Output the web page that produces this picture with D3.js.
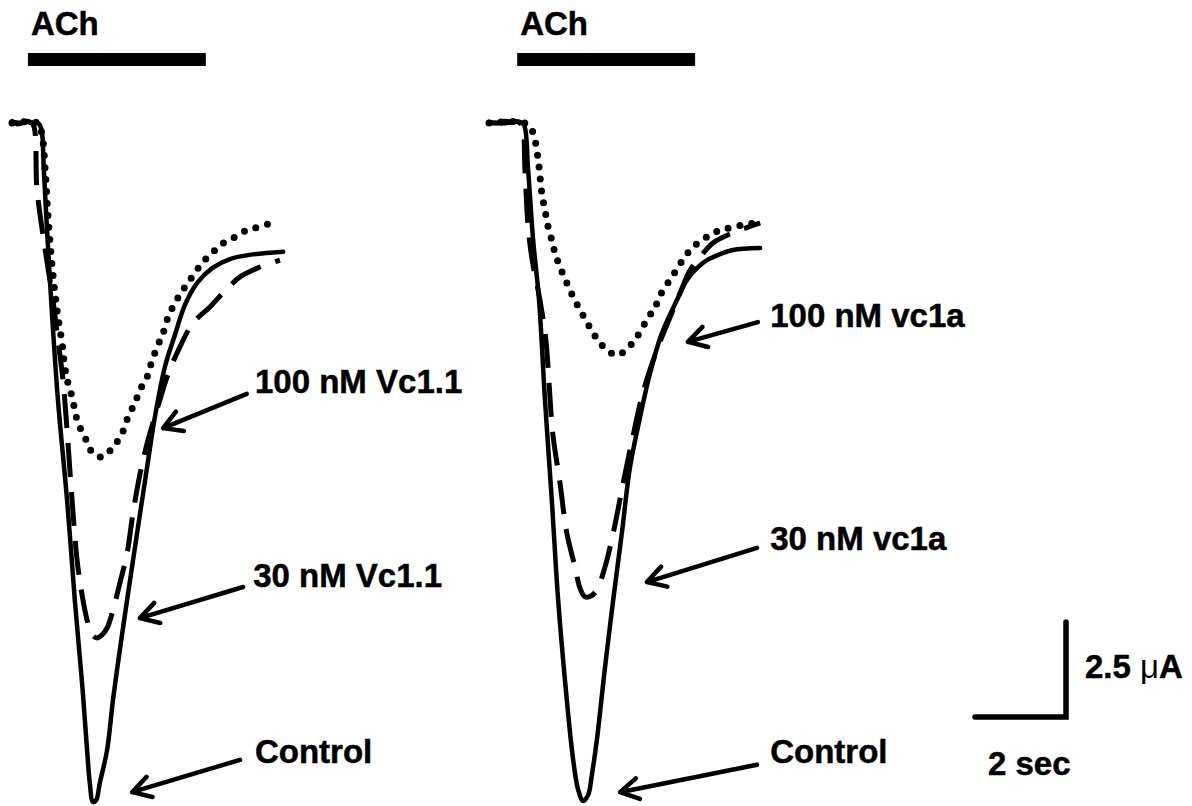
<!DOCTYPE html>
<html>
<head>
<meta charset="utf-8">
<script src="https://cdn.jsdelivr.net/npm/d3@7"></script>
<style>
  body { margin: 0; background: #fff; }
  text { font-family: "Liberation Sans", Arial, sans-serif; font-weight: bold; fill: #000; stroke: #000; stroke-width: 0.5; }
</style>
</head>
<body>
<svg id="chart"></svg>
<script>
// traces: [time (s), current (uA)]
const controlLeft = [[0,0.05],[0.11,-0.03],[0.22,0],[0.33,0.05],[0.46,0],[0.57,0],[0.64,-0.13],[0.70,-1.24],[0.77,-2.82],[0.86,-4.66],[1.01,-7.29],[1.21,-9.92],[1.38,-12.55],[1.54,-14.74],[1.65,-16.50],[1.71,-17.37],[1.78,-17.87],[1.85,-17.82],[1.93,-17.37],[2.09,-16.50],[2.22,-15.18],[2.37,-13.87],[2.53,-12.55],[2.75,-10.79],[2.97,-9.05],[3.14,-7.74],[3.36,-6.42],[3.58,-5.58],[3.80,-4.79],[4.07,-4.21],[4.40,-3.82],[4.79,-3.58],[5.23,-3.47],[5.96,-3.39]];
const vc11_30 = [[0,0.03],[0.18,0],[0.35,0.03],[0.46,-0.03],[0.55,-1.76],[0.73,-3.34],[0.90,-4.66],[1.01,-5.71],[1.12,-6.76],[1.21,-8.08],[1.32,-9.92],[1.43,-11.50],[1.54,-12.42],[1.65,-13.08],[1.76,-13.47],[1.87,-13.55],[1.98,-13.47],[2.09,-13.29],[2.22,-12.82],[2.37,-12.11],[2.53,-11.32],[2.66,-10.26],[2.81,-9.26],[2.99,-8.34],[3.25,-7.29],[3.41,-6.68],[3.69,-5.89],[3.98,-5.26],[4.35,-4.84],[4.64,-4.47],[5.01,-4.05],[5.45,-3.79],[5.89,-3.61]];
const vc11_100 = [[0,0],[0.57,0],[0.66,-0.32],[0.73,-1.24],[0.79,-2.42],[0.88,-3.74],[0.95,-4.53],[1.01,-5.11],[1.10,-5.79],[1.16,-6.42],[1.23,-6.84],[1.32,-7.21],[1.38,-7.55],[1.45,-7.89],[1.60,-8.26],[1.76,-8.66],[1.98,-8.79],[2.22,-8.53],[2.42,-8.16],[2.55,-7.74],[2.70,-7.37],[2.81,-7.03],[2.97,-6.68],[3.08,-6.24],[3.21,-5.84],[3.32,-5.53],[3.43,-5.11],[3.58,-4.74],[3.76,-4.39],[3.96,-4.05],[4.18,-3.68],[4.40,-3.42],[4.64,-3.16],[4.90,-3.00],[5.16,-2.82],[5.41,-2.74],[5.71,-2.63]];

const controlRight = [[0,0.03],[0.18,0],[0.35,0.05],[0.55,0.03],[0.68,0.03],[0.77,-0.05],[0.86,-1.24],[0.97,-3.08],[1.10,-4.66],[1.23,-7.29],[1.38,-9.92],[1.52,-12.55],[1.71,-15.18],[1.85,-16.76],[1.96,-17.55],[2.07,-17.84],[2.18,-17.68],[2.26,-17.16],[2.37,-16.24],[2.55,-14.32],[2.73,-12.55],[2.92,-10.79],[3.10,-9.05],[3.32,-7.74],[3.54,-6.58],[3.80,-5.53],[4.13,-4.66],[4.35,-4.13],[4.57,-3.82],[4.79,-3.61],[5.08,-3.45],[5.36,-3.34],[5.96,-3.29]];
const vc1a_30 = [[0,0],[0.35,0],[0.64,0.03],[0.73,-0.08],[0.79,-1.24],[0.86,-2.74],[0.95,-3.61],[1.12,-4.66],[1.25,-5.71],[1.32,-6.84],[1.40,-8.16],[1.56,-9.47],[1.71,-10.79],[1.89,-11.68],[2.00,-12.24],[2.11,-12.47],[2.24,-12.45],[2.37,-12.29],[2.55,-11.68],[2.73,-10.79],[2.95,-9.47],[3.16,-8.26],[3.38,-7.11],[3.69,-5.97],[3.98,-5.11],[4.20,-4.47],[4.42,-3.87],[4.64,-3.53],[4.92,-3.16],[5.36,-2.89],[5.96,-2.63]];
const vc1a_100 = [[0,0],[0.68,0.03],[0.86,-0.05],[0.97,-0.26],[1.05,-0.71],[1.10,-1.16],[1.16,-1.84],[1.23,-2.29],[1.30,-2.74],[1.38,-3.08],[1.45,-3.42],[1.56,-3.79],[1.71,-4.21],[1.85,-4.58],[2.00,-4.92],[2.15,-5.24],[2.29,-5.53],[2.44,-5.79],[2.62,-6.00],[2.81,-6.11],[3.03,-5.95],[3.25,-5.63],[3.47,-5.18],[3.65,-4.84],[3.80,-4.45],[4.02,-4.05],[4.20,-3.71],[4.37,-3.42],[4.59,-3.16],[4.86,-2.95],[5.08,-2.82],[5.36,-2.74],[5.67,-2.66],[5.96,-2.63]];

// ACh application (s): [on, off]
const achLeft = [0.35, 4.26];
const achRight = [0.62, 4.53];

const labelsLeft = ['100 nM Vc1.1', '30 nM Vc1.1', 'Control'];
const labelsRight = ['100 nM vc1a', '30 nM vc1a', 'Control'];

const scaleBarTime = 2;     // s
const scaleBarCurrent = 2.5; // uA
const scaleBarLabels = ['2 sec', '2.5 \u03bcA'];

const width = 1192, height = 806;
const pxPerSec = 45.5, pxPerUA = 38;
const baseY = 123;
const fontSize = 33;

const svg = d3.select('#chart')
  .attr('width', width)
  .attr('height', height);

svg.append('rect').attr('width', width).attr('height', height).attr('fill', '#fff');

const y = d3.scaleLinear()
  .domain([0, -1])
  .range([baseY, baseY + pxPerUA]);

const xLeft = d3.scaleLinear().domain([0, 1]).range([12, 12 + pxPerSec]);
const xRight = d3.scaleLinear().domain([0, 1]).range([489, 489 + pxPerSec]);

const styles = {
  solid: { w: 4.5, dash: null, cap: 'round' },
  dashed: { w: 5, dash: '34,15', cap: 'butt' },
  dotted: { w: 7, dash: '0,12', cap: 'round' }
};

// arrows: tail/tip in [s, uA], text anchor in [s, uA]
const arrowsLeft = [
  { tail: [5.16, -7.13], tip: [3.32, -8.03], text: [5.34, -7.11] },
  { tail: [5.08, -12.21], tip: [2.81, -13.03], text: [5.30, -12.21] },
  { tail: [5.01, -16.76], tip: [2.64, -17.61], text: [5.34, -16.84] }
];
const arrowsRight = [
  { tail: [5.91, -5.24], tip: [4.37, -5.76], text: [6.18, -5.37] },
  { tail: [5.89, -11.18], tip: [3.47, -12.08], text: [6.18, -11.24] },
  { tail: [5.89, -16.89], tip: [2.88, -17.61], text: [6.18, -16.84] }
];

function drawPanel(x, traces, ach, labels, arrows) {
  const g = svg.append('g');

  const line = d3.line()
    .x(d => x(d[0]))
    .y(d => y(d[1]))
    .curve(d3.curveCatmullRom.alpha(0.5));

  traces.forEach(tr => {
    const s = styles[tr.style];
    g.append('path')
      .datum(tr.data)
      .attr('d', line)
      .attr('fill', 'none')
      .attr('stroke', '#000')
      .attr('stroke-width', s.w)
      .attr('stroke-linecap', s.cap)
      .attr('stroke-linejoin', 'round')
      .attr('stroke-dasharray', s.dash);
  });

  // ACh bar
  g.append('rect')
    .attr('x', x(ach[0]))
    .attr('y', 53)
    .attr('width', x(ach[1]) - x(ach[0]))
    .attr('height', 13)
    .attr('fill', '#000');
  g.append('text')
    .attr('x', x(ach[0]) + 3)
    .attr('y', 35)
    .attr('font-size', fontSize)
    .text('ACh');

  // labels + arrows
  arrows.forEach((a, i) => {
    const x1 = x(a.tail[0]), y1 = y(a.tail[1]);
    const x2 = x(a.tip[0]), y2 = y(a.tip[1]);
    const ang = Math.atan2(y1 - y2, x1 - x2);
    const len = 21, spread = Math.PI / 6;
    const p = d3.path();
    p.moveTo(x1, y1);
    p.lineTo(x2, y2);
    p.moveTo(x2 + len * Math.cos(ang - spread), y2 + len * Math.sin(ang - spread));
    p.lineTo(x2, y2);
    p.lineTo(x2 + len * Math.cos(ang + spread), y2 + len * Math.sin(ang + spread));
    g.append('path')
      .attr('d', p.toString())
      .attr('fill', 'none')
      .attr('stroke', '#000')
      .attr('stroke-width', 4.5)
      .attr('stroke-linecap', 'round')
      .attr('stroke-linejoin', 'round');
    g.append('text')
      .attr('x', x(a.text[0]))
      .attr('y', y(a.text[1]))
      .attr('font-size', fontSize)
      .text(labels[i]);
  });
}

drawPanel(xLeft, [
  { data: vc11_100, style: 'dotted' },
  { data: vc11_30, style: 'dashed' },
  { data: controlLeft, style: 'solid' }
], achLeft, labelsLeft, arrowsLeft);

drawPanel(xRight, [
  { data: vc1a_100, style: 'dotted' },
  { data: vc1a_30, style: 'dashed' },
  { data: controlRight, style: 'solid' }
], achRight, labelsRight, arrowsRight);

// scale bar
const cornerX = 1066, cornerY = 717;
const barW = xRight(scaleBarTime) - xRight(0);
const barH = y(-scaleBarCurrent) - y(0);
svg.append('path')
  .attr('d', `M${cornerX - barW},${cornerY}H${cornerX}V${cornerY - barH}`)
  .attr('fill', 'none')
  .attr('stroke', '#000')
  .attr('stroke-width', 5.5)
  .attr('stroke-linecap', 'round');

svg.append('text')
  .attr('x', 988)
  .attr('y', 775)
  .attr('font-size', fontSize)
  .text(scaleBarLabels[0]);

const amp = svg.append('text')
  .attr('x', 1085)
  .attr('y', 678)
  .attr('font-size', fontSize);
amp.append('tspan').text(scaleBarLabels[1].split(' ')[0] + ' ');
amp.append('tspan').attr('font-weight', 'normal').attr('stroke-width', 0).text('\u03bc');
amp.append('tspan').text('A');
</script>
</body>
</html>
